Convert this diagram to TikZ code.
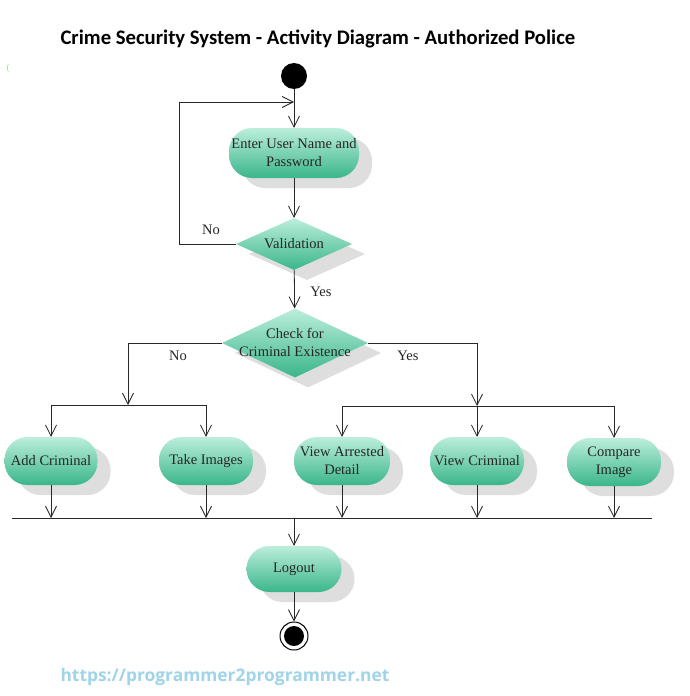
\documentclass[tikz,border=0pt]{standalone}
\usepackage{fontspec}
\setmainfont{Liberation Serif}
\newfontfamily\titlefont{Carlito}
\newfontfamily\urlfont{Open Sans}
\usetikzlibrary{arrows.meta,shapes.geometric,shadows}
\definecolor{mintT}{RGB}{188,238,220}
\definecolor{mintB}{RGB}{58,182,138}
\definecolor{shad}{RGB}{222,222,222}
\definecolor{linec}{RGB}{40,40,40}
\definecolor{urlc}{RGB}{160,212,232}
\tikzset{
  act/.style={rectangle, rounded corners=23pt, top color=mintT, bottom color=mintB,
    draw=none, align=center, inner sep=2pt, text=black!85,
    font=\fontsize{14.5}{18}\selectfont,
    drop shadow={shadow xshift=13pt, shadow yshift=-10pt, fill=shad, opacity=1}},
  dec/.style={diamond, top color=mintT, bottom color=mintB, draw=none, inner sep=0pt,
    drop shadow={shadow xshift=13pt, shadow yshift=-10pt, fill=shad, opacity=1}},
  dtext/.style={align=center, text=black!85, font=\fontsize{14.5}{18}\selectfont},
  lbl/.style={font=\fontsize{14.5}{16}\selectfont, text=black!85},
  arr/.style={draw=linec, line width=0.8pt, -{Straight Barb[length=11pt,width=11pt,line width=0.8pt]}},
  ln/.style={draw=linec, line width=0.8pt},
  bar/.style={draw=linec, line width=1pt},
}
\begin{document}
\begin{tikzpicture}[x=1pt,y=-1pt]
\useasboundingbox[fill=white] (0,0) rectangle (690,696);
% title
\node[font=\titlefont\bfseries\fontsize{20.7}{22}\selectfont, anchor=west] (title) at (57,39) {Crime Security System - Activity Diagram - Authorized Police};
\node[text=green!60!white, font=\fontsize{9}{9}\selectfont] (mark) at (8,68) {(};
% start
\node[circle, fill=black, minimum size=26pt, inner sep=0pt] (start) at (294,76) {};
% activities
\node[act, minimum width=130pt, minimum height=50pt] (enter) at (294,153) {Enter User Name and\\Password};
\node[dec, minimum width=116pt, minimum height=52pt] (valid) at (294,244) {};
\node[dtext] (validt) at (294,244) {Validation};
\node[dec, minimum width=146pt, minimum height=69pt] (check) at (295,343) {};
\node[dtext] (checkt) at (295,342) {Check for\\Criminal Existence};
\node[act, minimum width=93pt, minimum height=48pt] (add) at (51,461) {Add Criminal};
\node[act, minimum width=94pt, minimum height=48pt] (take) at (206,461) {Take Images};
\node[act, minimum width=96pt, minimum height=48pt] (arrest) at (342,461) {View Arrested\\Detail};
\node[act, minimum width=94pt, minimum height=48pt] (viewc) at (477,461) {View Criminal};
\node[act, minimum width=94pt, minimum height=48pt] (comp) at (614,462) {Compare\\Image};
\node[act, minimum width=95pt, minimum height=46pt] (logout) at (294,569) {Logout};
% end
\node[circle, draw=black, line width=1pt, fill=white, minimum size=28pt, inner sep=0pt] (endo) at (294,636) {};
\node[circle, fill=black, minimum size=20pt, inner sep=0pt] (endi) at (294,636) {};
% coordinates
\coordinate (loopin) at (294,102);
\coordinate (forkL) at (128,405);
\coordinate (forkR) at (477,406);
\coordinate (joinL) at (12,518);
\coordinate (joinR) at (652,518);
% connectors
\draw[arr] (start) -- (enter);
\draw[arr] (valid.west) -- ++(-56,0) |- (loopin);
\draw[arr] (enter) -- (valid);
\draw[arr] (valid) -- (check);
\draw[arr] (check.west) -| (forkL);
\draw[arr] (check.east) -| (forkR);
\draw[ln] (forkL -| add) -- (forkL -| take);
\draw[ln] (forkR -| arrest) -- (forkR -| comp);
\draw[arr] (forkL -| add) -- (add);
\draw[arr] (forkL -| take) -- (take);
\draw[arr] (forkR -| arrest) -- (arrest);
\draw[arr] (forkR) -- (viewc);
\draw[arr] (forkR -| comp) -- (comp);
\draw[bar] (joinL) -- (joinR);
\draw[arr] (add) -- (joinL -| add);
\draw[arr] (take) -- (joinL -| take);
\draw[arr] (arrest) -- (joinL -| arrest);
\draw[arr] (viewc) -- (joinL -| viewc);
\draw[arr] (comp) -- (joinL -| comp);
\draw[arr] (joinL -| logout) -- (logout);
\draw[arr] (logout) -- (endo);
% labels
\node[lbl] (no1) at (211,230) {No};
\node[lbl] (yes1) at (321,292) {Yes};
\node[lbl] (no2) at (178,356) {No};
\node[lbl] (yes2) at (408,356) {Yes};
% url
\node[font=\urlfont\bfseries\fontsize{17.4}{19}\selectfont, text=urlc, anchor=west] (url) at (57,677) {https://programmer2programmer.net};
\end{tikzpicture}
\end{document}
